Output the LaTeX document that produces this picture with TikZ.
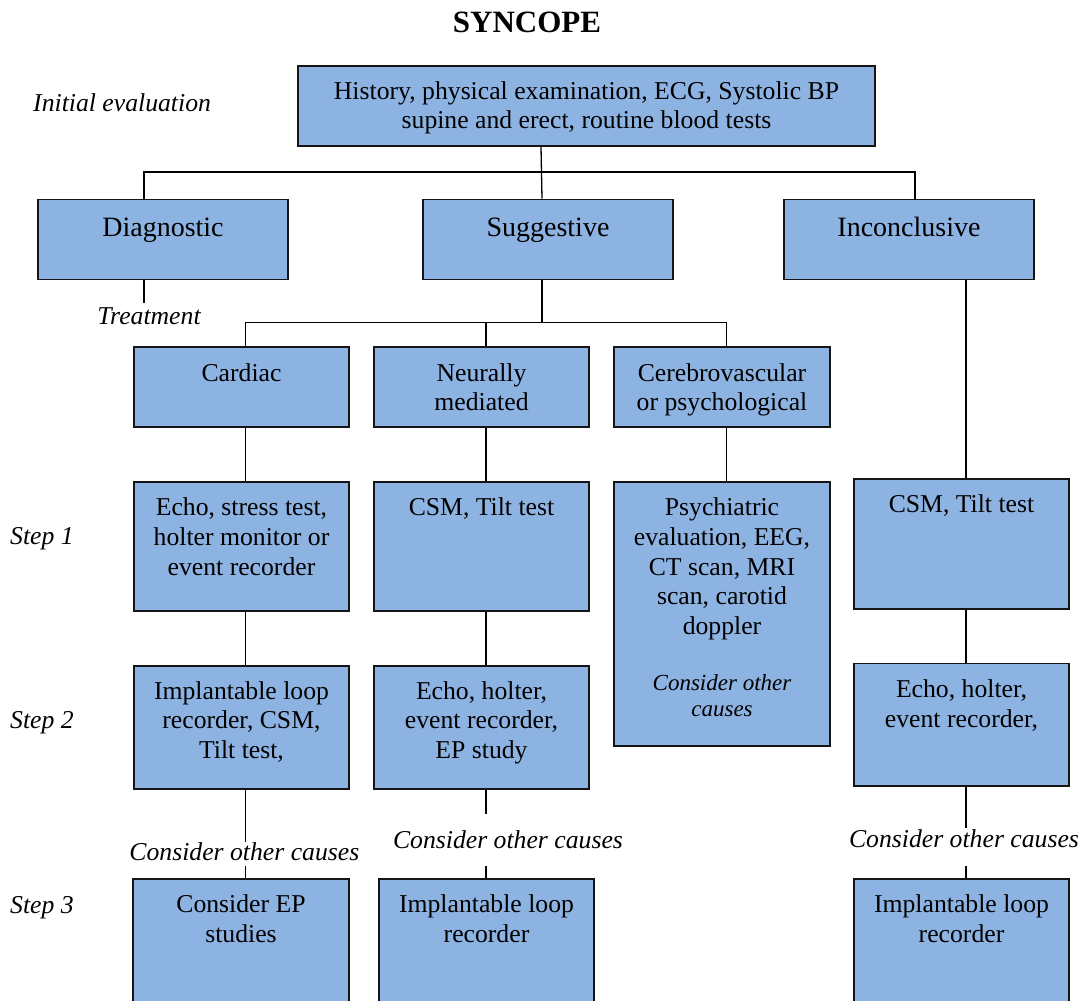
\documentclass[tikz,border=0pt]{standalone}
\usepackage{fontspec}
\setmainfont{Liberation Serif}
\definecolor{boxblue}{HTML}{8DB3E2}
\definecolor{edge}{HTML}{151515}
\tikzset{
  box/.style={draw=edge, fill=boxblue, line width=1.7pt, inner sep=0pt, minimum width=215pt, minimum height=80pt},
  txt/.style={anchor=north, inner sep=0pt, align=center, font=\fontsize{25.7}{29.7}\selectfont},
  bigtxt/.style={anchor=north, inner sep=0pt, align=center, font=\fontsize{28}{32}\selectfont},
  lbl/.style={anchor=base, inner sep=0pt, font=\fontsize{25.7}{29.7}\selectfont\itshape},
  conn/.style={draw=black, line width=1.3pt},
}
\begin{document}
\begin{tikzpicture}[x=1pt,y=-1pt]
\clip (0,0) rectangle (1084,1001);
\fill[white] (0,0) rectangle (1084,1001);

% title and side labels
\node[anchor=base, inner sep=0pt, font=\fontsize{31}{36}\selectfont\bfseries] (title) at (527,32) {SYNCOPE};
\node[lbl, anchor=base west] (initl) at (33,111) {Initial evaluation};
\node[lbl] (treat) at (149,324) {Treatment};
\node[lbl, anchor=base west] (step1) at (10,544) {Step 1};
\node[lbl, anchor=base west] (step2) at (10,728.5) {Step 2};
\node[lbl, anchor=base west] (step3) at (10,913.5) {Step 3};

% boxes
\node[box, minimum width=577pt] (top) at (586.5,106) {};
\node[box, minimum width=250pt] (diag) at (163,239.5) {};
\node[box, minimum width=250pt] (sugg) at (548,239.5) {};
\node[box, minimum width=250pt] (incl) at (909,239.5) {};
\node[box] (card) at (241.5,387.3) {};
\node[box] (neur) at (481.5,387.3) {};
\node[box, minimum width=216pt] (cere) at (722,387.3) {};
\node[box, minimum height=129pt] (sa) at (241.5,546.5) {};
\node[box, minimum height=129pt] (sb) at (481.5,546.5) {};
\node[box, minimum width=216pt, minimum height=264pt] (sc) at (722,614) {};
\node[box, minimum height=130pt] (sd) at (961.5,544) {};
\node[box, minimum height=123pt] (ta) at (241.5,727.5) {};
\node[box, minimum height=123pt] (tb) at (481.5,727.5) {};
\node[box, minimum height=122.7pt] (td) at (961.5,724.7) {};
\node[box, minimum width=216pt, minimum height=131pt] (ua) at (241,944.5) {};
\node[box, minimum height=131pt] (ub) at (486.5,944.5) {};
\node[box, minimum height=131pt] (ud) at (961.5,944.5) {};

% box texts
\node[txt, font=\fontsize{25.7}{29}\selectfont] (topt) at (586.5,78.7) {\strut History, physical examination, ECG, Systolic BP\\supine and erect, routine blood tests};
\node[bigtxt] (diagt) at (163,213.6) {\strut Diagnostic};
\node[bigtxt] (suggt) at (548,213.6) {\strut Suggestive};
\node[bigtxt] (inclt) at (909,213.6) {\strut Inconclusive};
\node[txt] (cardt) at (241.5,360.2) {\strut Cardiac};
\node[txt] (neurt) at (481.5,360.2) {\strut Neurally\\mediated};
\node[txt] (ceret) at (722,360.2) {\strut Cerebrovascular\\or psychological};
\node[txt] (sat) at (241.5,494.7) {\strut Echo, stress test,\\holter monitor or\\event recorder};
\node[txt] (sbt) at (481.5,494.7) {\strut CSM, Tilt test};
\node[txt] (sct) at (722,494.7) {\strut Psychiatric\\evaluation, EEG,\\CT scan, MRI\\scan, carotid\\doppler};
\node[txt, font=\fontsize{23}{26.7}\selectfont\itshape] (sct2) at (722,671.3) {\strut Consider other\\causes};
\node[txt] (sdt) at (961.5,491.9) {\strut CSM, Tilt test};
\node[txt] (tat) at (241.5,678.2) {\strut Implantable loop\\recorder, CSM,\\Tilt test,};
\node[txt] (tbt) at (481.5,678.2) {\strut Echo, holter,\\event recorder,\\EP study};
\node[txt] (tdt) at (961.5,676.9) {\strut Echo, holter,\\event recorder,};
\node[txt] (uat) at (241,891.9) {\strut Consider EP\\studies};
\node[txt] (ubt) at (486.5,891.9) {\strut Implantable loop\\recorder};
\node[txt] (udt) at (961.5,891.9) {\strut Implantable loop\\recorder};

% "consider other causes" labels between steps
\node[lbl] (ca) at (244.4,860) {Consider other causes};
\node[lbl] (cb) at (508,848) {Consider other causes};
\node[lbl] (cd) at (964,847.5) {Consider other causes};

% column coordinates
\coordinate (xL) at (144,0);
\coordinate (xT) at (541,0);
\coordinate (xS) at (542,0);
\coordinate (xR) at (915,0);
\coordinate (xA) at (245.5,0);
\coordinate (xB) at (486,0);
\coordinate (xC) at (726.7,0);
\coordinate (xD) at (966,0);
\coordinate (bus1) at (0,172);
\coordinate (bus2) at (0,322.3);
\coordinate (trtend) at (144,302.7);
\coordinate (gA1) at (245.5,841.7);
\coordinate (gA2) at (245.5,866.3);
\coordinate (gB1) at (486,814.3);
\coordinate (gB2) at (486,866.3);
\coordinate (gD1) at (966,828.3);
\coordinate (gD2) at (966,866.3);

% connectors: first level
\draw[conn] (top.south -| xT) -- (sugg.north -| xS);
\draw[conn] (diag.north -| xL) |- (bus1 -| xR) -- (incl.north -| xR);
\draw[conn] (diag.south -| xL) -- (trtend);
% suggestive branches
\draw[conn] (sugg.south -| xS) -- (bus2 -| xS);
\draw[conn] (card.north -| xA) |- (bus2 -| xC) -- (cere.north -| xC);
\draw[conn] (bus2 -| xB) -- (neur.north -| xB);
% columns
\draw[conn] (card.south -| xA) -- (sa.north -| xA);
\draw[conn] (sa.south -| xA) -- (ta.north -| xA);
\draw[conn] (ta.south -| xA) -- (gA1);
\draw[conn] (gA2) -- (ua.north -| xA);
\draw[conn] (neur.south -| xB) -- (sb.north -| xB);
\draw[conn] (sb.south -| xB) -- (tb.north -| xB);
\draw[conn] (tb.south -| xB) -- (gB1);
\draw[conn] (gB2) -- (ub.north -| xB);
\draw[conn] (cere.south -| xC) -- (sc.north -| xC);
\draw[conn] (incl.south -| xD) -- (sd.north -| xD);
\draw[conn] (sd.south -| xD) -- (td.north -| xD);
\draw[conn] (td.south -| xD) -- (gD1);
\draw[conn] (gD2) -- (ud.north -| xD);
\end{tikzpicture}
\end{document}
